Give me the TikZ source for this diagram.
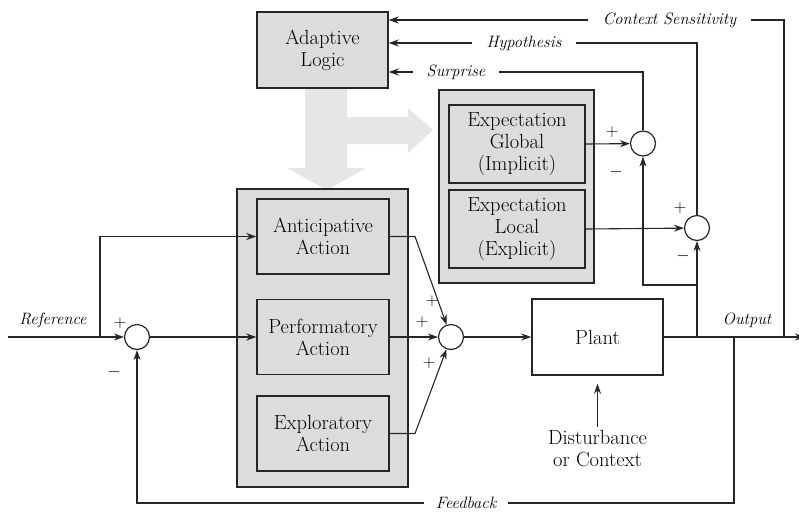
\documentclass[tikz,border=0pt]{standalone}
\usepackage{fontspec}
\usepackage{tikz}
\usetikzlibrary{arrows.meta,shapes}
\definecolor{boxgray}{HTML}{DCDCDC}
\definecolor{shadegray}{HTML}{E6E6E6}
\definecolor{linegray}{HTML}{262626}

\begin{document}
\begin{tikzpicture}[x=1pt,y=-1pt,
    font=\fontsize{20.5}{22}\selectfont,
    block/.style={draw=linegray,line width=1.5pt,fill=boxgray,align=center,
      minimum width=132pt,minimum height=76pt,inner sep=0pt},
    frame/.style={draw=linegray,line width=1.5pt,fill=boxgray,inner sep=0pt},
    sumnode/.style={circle,draw=linegray,line width=1.2pt,fill=white,
      minimum size=25pt,inner sep=0pt},
    sig/.style={draw=linegray,line width=1.1pt},
    arr/.style={sig,-{Stealth[length=10pt,width=7pt]}},
    lbl/.style={font=\fontsize{16.5}{19}\selectfont\itshape,fill=white,inner xsep=12pt},
    sign/.style={font=\fontsize{17}{19}\selectfont}]
            \useasboundingbox (0,0) rectangle (799,512);
            % big grey arrows from the adaptive logic
            \fill[shadegray] (305,88) -- (347,88) -- (347,117) -- (408,117)
              -- (408,108) -- (433,130) -- (408,153) -- (408,144) -- (347,144)
              -- (347,168) -- (366,168) -- (327,190) -- (287,168) -- (305,168) -- cycle;
            % frames and blocks
            \node[frame,minimum width=171pt,minimum height=298pt] (actframe) at (322.5,338) {};
            \node[frame,minimum width=155pt,minimum height=193pt] (expframe) at (516.5,186.5) {};
            \node[block,minimum width=131pt] (adapt) at (322.5,50) {Adaptive\\Logic};
            \node[block,minimum height=75pt] (antic) at (323,236.5) {Anticipative\\Action};
            \node[block,minimum height=75pt] (perf) at (323,337) {Performatory\\Action};
            \node[block,minimum height=75pt] (explo) at (323,433.5) {Exploratory\\Action};
            \node[block,minimum width=136pt,minimum height=78pt] (glob) at (517,144) {Expectation\\Global\\(Implicit)};
            \node[block,minimum width=136pt,minimum height=78pt] (loc) at (517,229) {Expectation\\Local\\(Explicit)};
            \node[block,fill=white,minimum width=131pt] (plant) at (597.5,337) {Plant};
            \node[align=center] (dist) at (597.5,449) {Disturbance\\or Context};
            % summing points
            \node[sumnode] (sum0) at (137,337) {};
            \node[sumnode] (sumS) at (451,337) {};
            \node[sumnode] (sumG) at (643,143.5) {};
            \node[sumnode] (sumL) at (697,228) {};
            % corner points
            \coordinate (refin) at (8,337);
            \coordinate (split) at (100,337);
            \coordinate (kinkA) at (415,236.5);
            \coordinate (kinkE) at (415,433.5);
            \coordinate (outend) at (805,337);
            \coordinate (jL) at (697,337);
            \coordinate (jG) at (697,285);
            \coordinate (jF) at (734,337);
            \coordinate (jC) at (784,337);
            \coordinate (fbcorner) at (734,503);
            \coordinate (csturn) at (784,20);
            \coordinate (hyturn) at (697,43);
            \coordinate (suturn) at (643,72);
            % signals
            \draw[arr] (refin) -- (sum0);
            \draw[arr] (split) |- (antic.west);
            \draw[arr] (sum0) -- (perf.west);
            \draw[arr] (antic.east) -- (kinkA) -- (sumS);
            \draw[arr] (perf.east) -- (sumS);
            \draw[arr] (explo.east) -- (kinkE) -- (sumS);
            \draw[arr] (sumS) -- (plant.west);
            \draw[arr] (plant.east) -- (outend);
            \draw[arr,shorten >=8pt] (dist) -- (plant.south);
            \draw[arr] (glob.east) -- (sumG);
            \draw[arr] (loc.east) -- (sumL);
            \draw[arr] (jL) -- (sumL);
            \draw[arr] (jG) -| (sumG);
            \draw[arr] (jF) -- (fbcorner) -| (sum0);
            \draw[arr] (jC) -- (csturn) -- (adapt.east |- csturn);
            \draw[arr] (sumL) -- (hyturn) -- (adapt.east |- hyturn);
            \draw[arr] (sumG) -- (suturn) -- (adapt.east |- suturn);
            % labels
            \node[lbl,fill=none] (reflbl) at (53,320) {Reference};
            \node[lbl,fill=none] (outlbl) at (747,320) {Output};
            \node[lbl] (fblbl) at (466,503) {Feedback};
            \node[lbl,inner xsep=15pt] (cslbl) at (669.5,20) {Context Sensitivity};
            \node[lbl,inner xsep=15pt] (hylbl) at (524,43) {Hypothesis};
            \node[lbl,inner xsep=14pt] (sulbl) at (456,72) {Surprise};
            % signs
            \node[sign] (s0p) at (120,323) {$+$};
            \node[sign] (s0m) at (114,372) {$-$};
            \node[sign] (sSa) at (432,301) {$+$};
            \node[sign] (sSb) at (422,322) {$+$};
            \node[sign] (sSc) at (429,363) {$+$};
            \node[sign] (sGp) at (612,132) {$+$};
            \node[sign] (sGm) at (616,172) {$-$};
            \node[sign] (sLp) at (680,208) {$+$};
            \node[sign] (sLm) at (683,256) {$-$};
          \end{tikzpicture}
\end{document}
